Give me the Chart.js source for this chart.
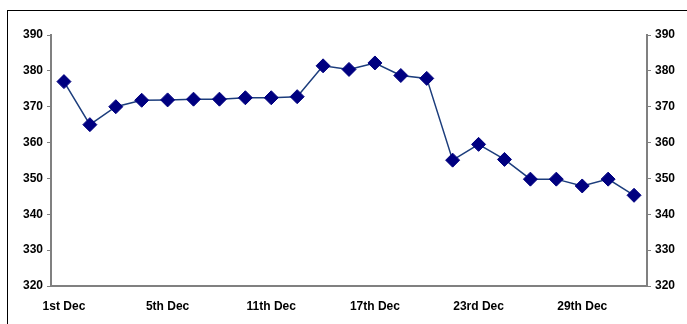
<!DOCTYPE html>
<html lang="en">
<head>
<meta charset="UTF-8">
<title>December</title>
<style>
  html, body { margin: 0; padding: 0; background: #fff; }
  #wrap { position: relative; width: 687px; height: 324px; overflow: hidden; }
  #frame { position: absolute; left: 7px; top: 10px; width: 700px; height: 340px; border: 1.5px solid #000; box-sizing: border-box; }
  #chartBox { position: absolute; left: 0; top: 0; width: 687px; height: 324px; }
</style>
</head>
<body>
<div id="wrap">
  <div id="frame"></div>
  <div id="chartBox"><canvas id="myChart"></canvas></div>
</div>
<script src="https://cdn.jsdelivr.net/npm/chart.js"></script>
<script>
// trading days in December
const v_days = ['1st Dec', '2nd Dec', '3rd Dec', '4th Dec', '5th Dec', '8th Dec', '9th Dec', '10th Dec',
  '11th Dec', '12th Dec', '15th Dec', '16th Dec', '17th Dec', '18th Dec', '19th Dec', '22nd Dec',
  '23rd Dec', '24th Dec', '25th Dec', '26th Dec', '29th Dec', '30th Dec', '31st Dec'];
const v_values = [377, 365, 370, 371.8, 371.9, 372.1, 372.1, 372.5, 372.5, 372.8, 381.4, 380.4,
  382.2, 378.7, 377.9, 355.1, 359.5, 355.3, 349.8, 349.8, 347.9, 349.8, 345.3];
const v_yMin = 320, v_yMax = 390, v_yStep = 10;

const tickFont = { family: 'Liberation Sans, Arial, sans-serif', size: 12, weight: 'bold' };

const yAxis = (pos) => ({
  position: pos,
  min: v_yMin, max: v_yMax,
  ticks: { stepSize: v_yStep, color: '#000', font: tickFont, padding: 4 },
  grid: { drawOnChartArea: false, drawTicks: true, tickLength: 4, color: '#808080', lineWidth: 1 },
  border: { display: true, color: '#808080', width: 2 },
  afterFit: (s) => { s.width = pos === 'left' ? 51 : 40; }
});

new Chart(document.getElementById('myChart'), {
  type: 'line',
  data: {
    labels: v_days,
    datasets: [{
      data: v_values,
      borderColor: '#1c3d7c',
      borderWidth: 1.5,
      pointStyle: 'rectRot',
      pointRadius: 7,
      pointBackgroundColor: '#000080',
      pointBorderColor: '#000080',
      pointBorderWidth: 1,
      tension: 0
    }, {
      data: v_values,
      yAxisID: 'y1',
      showLine: false,
      pointRadius: 0
    }]
  },
  options: {
    responsive: true,
    maintainAspectRatio: false,
    animation: false,
    layout: { padding: { top: 35, left: 0, right: 0, bottom: 0 } },
    plugins: { legend: { display: false }, tooltip: { enabled: false } },
    scales: {
      x: {
        offset: true,
        ticks: {
          color: '#000', font: tickFont, autoSkip: false, maxRotation: 0, padding: 5,
          callback: function (v, i) { return i % 4 === 0 ? this.getLabelForValue(v) : ''; }
        },
        grid: { display: false },
        border: { display: true, color: '#808080', width: 2 },
        afterFit: (s) => { s.height = 38; }
      },
      y: yAxis('left'),
      y1: yAxis('right')
    }
  }
});
</script>
</body>
</html>
